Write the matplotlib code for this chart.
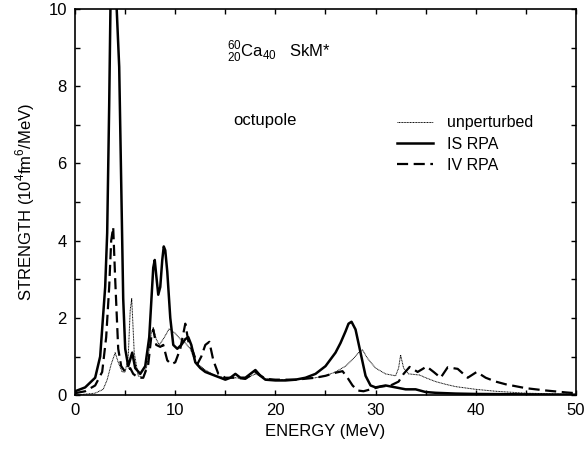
import matplotlib
matplotlib.use("Agg")
import matplotlib.pyplot as plt
from matplotlib.ticker import MultipleLocator

plt.rcParams['font.family'] = ['Liberation Sans', 'DejaVu Sans']
plt.rcParams['mathtext.fontset'] = 'custom'
plt.rcParams['mathtext.rm'] = 'Liberation Sans'

# IS RPA (solid)
is_E = [0, 1, 2, 2.5, 3.0, 3.2, 3.4, 3.55, 3.75, 3.95, 4.15, 4.4, 4.6, 4.8, 5.0, 5.3, 5.7, 6.0,
        6.5, 7.0, 7.4, 7.6, 7.8, 7.95, 8.1, 8.3, 8.5, 8.7, 8.85, 9.0, 9.2, 9.5, 9.8, 10.2,
        10.6, 11.0, 11.3, 11.6, 12.0, 12.5, 13.0, 14.0, 15.0, 15.5, 16.0, 16.5, 17.0, 17.5,
        18.0, 18.5, 19.0, 20, 21, 22, 23, 24, 25, 26, 26.5, 27, 27.3, 27.6, 28, 28.5, 29,
        29.5, 30, 31, 32, 33, 34, 35, 36, 38, 40, 45, 50]
is_S = [0.1, 0.2, 0.45, 1.0, 2.8, 4.2, 7.5, 10.5, 12.5, 12.0, 10.0, 8.5, 5.5, 2.5, 1.2, 0.75,
        1.1, 0.7, 0.55, 0.75, 1.5, 2.4, 3.3, 3.5, 3.1, 2.6, 2.8, 3.5, 3.85, 3.75, 3.2, 2.0,
        1.3, 1.2, 1.3, 1.45, 1.5, 1.3, 0.85, 0.7, 0.6, 0.5, 0.4, 0.45, 0.55, 0.45, 0.45,
        0.55, 0.65, 0.5, 0.4, 0.38, 0.38, 0.4, 0.45, 0.55, 0.75, 1.1, 1.35, 1.65, 1.85, 1.9,
        1.7, 1.1, 0.5, 0.25, 0.2, 0.25, 0.2, 0.15, 0.15, 0.08, 0.06, 0.04, 0.03, 0.02, 0.01]

# unperturbed (thin dotted)
un_E = [0, 2, 2.8, 3.2, 3.6, 4.0, 4.3, 4.7, 5.0, 5.3, 5.5, 5.65, 5.9, 6.3, 6.8, 7.2, 7.6, 7.8,
        8.1, 8.4, 8.8, 9.4, 10.0, 10.5, 11.0, 11.5, 12, 13, 14, 15, 16, 17, 18, 19, 20, 22,
        24, 25, 26, 27, 27.8, 28.3, 28.7, 29.2, 30, 31, 32, 32.3, 32.5, 32.8, 33.3, 34.4,
        35, 36, 37, 38, 40, 42, 45, 50]
un_S = [0.0, 0.05, 0.15, 0.4, 0.8, 1.1, 0.85, 0.6, 0.6, 1.0, 2.2, 2.5, 1.1, 0.5, 0.45, 0.8,
        1.6, 1.75, 1.45, 1.3, 1.45, 1.72, 1.6, 1.45, 1.35, 1.2, 0.85, 0.65, 0.5, 0.45, 0.45,
        0.42, 0.55, 0.42, 0.4, 0.4, 0.45, 0.5, 0.6, 0.75, 0.95, 1.1, 1.17, 0.95, 0.7, 0.55,
        0.5, 0.7, 1.04, 0.7, 0.55, 0.52, 0.45, 0.35, 0.28, 0.22, 0.15, 0.1, 0.05, 0.02]

# IV RPA (dashed)
iv_E = [0, 1, 2, 2.7, 3.1, 3.4, 3.6, 3.8, 4.0, 4.3, 4.6, 5.0, 5.5, 5.8, 6.3, 6.8, 7.3, 7.6,
        7.8, 8.1, 8.5, 8.8, 9.2, 9.6, 10.0, 10.5, 11.0, 11.3, 11.8, 12.2, 12.6, 13.0, 13.4,
        13.8, 14.3, 15, 16, 17, 18, 19, 20, 22, 24, 25, 26, 26.7, 27.2, 27.7, 28.2, 28.8,
        29.5, 30.5, 31.5, 32.3, 32.8, 33.4, 34.2, 35.1, 35.8, 36.5, 37.2, 38.2, 39.2, 40.1,
        41, 42, 43, 45, 47, 49, 50]
iv_S = [0.05, 0.1, 0.25, 0.6, 1.5, 2.8, 4.0, 4.35, 3.0, 1.2, 0.75, 0.6, 0.7, 0.55, 0.45, 0.45,
        0.8, 1.5, 1.7, 1.3, 1.25, 1.3, 0.9, 0.8, 0.85, 1.2, 1.85, 1.4, 1.1, 0.8, 1.0, 1.3,
        1.38, 0.9, 0.55, 0.45, 0.45, 0.42, 0.6, 0.42, 0.4, 0.4, 0.45, 0.5, 0.58, 0.62, 0.45,
        0.25, 0.12, 0.1, 0.15, 0.22, 0.25, 0.35, 0.55, 0.73, 0.6, 0.74, 0.6, 0.45, 0.72,
        0.68, 0.45, 0.6, 0.45, 0.35, 0.28, 0.18, 0.12, 0.07, 0.05]

fig = plt.figure(figsize=(5.87, 4.49), dpi=100)
ax = fig.add_axes([0.128, 0.12, 0.853, 0.86])

ax.plot(un_E, un_S, color='black', lw=0.7, linestyle=(0, (1, 0.6)), label='unperturbed')
ax.plot(is_E, is_S, color='black', lw=1.8, linestyle='-', label='IS RPA')
ax.plot(iv_E, iv_S, color='black', lw=1.6, linestyle=(0, (5, 2.5)), label='IV RPA')

ax.set_xlim(0, 50)
ax.set_ylim(0, 10)
ax.xaxis.set_major_locator(MultipleLocator(10))
ax.xaxis.set_minor_locator(MultipleLocator(5))
ax.yaxis.set_major_locator(MultipleLocator(2))
ax.yaxis.set_minor_locator(MultipleLocator(1))
ax.tick_params(which='both', direction='in', top=True, right=True, labelsize=12,
               length=3.5, width=1.0)
ax.tick_params(which='major', pad=6)
for s in ax.spines.values():
    s.set_linewidth(1.2)

ax.set_xlabel('ENERGY (MeV)', fontsize=12, labelpad=4)
ax.set_ylabel('STRENGTH (10$^4$fm$^6$/MeV)', fontsize=12, labelpad=8)

ax.text(15.2, 8.9, r'$^{60}_{20}$Ca$_{40}$   SkM*', fontsize=12, va='center')
ax.text(15.8, 7.1, 'octupole', fontsize=12, va='center')

leg = ax.legend(loc='upper left', bbox_to_anchor=(0.643, 0.725), frameon=False,
                fontsize=11.5, handlelength=2.25, handletextpad=0.85, labelspacing=0.4,
                borderpad=0, borderaxespad=0)

fig.savefig('out.png', dpi=100)
